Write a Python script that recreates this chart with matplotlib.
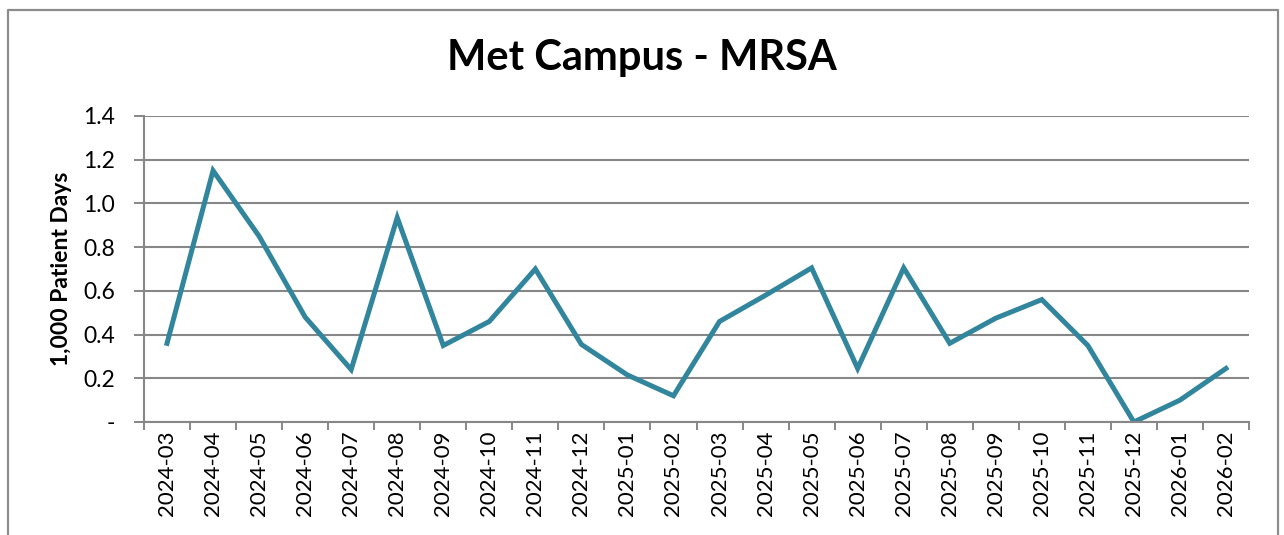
import numpy as np
import matplotlib
matplotlib.use("Agg")
import matplotlib.pyplot as plt
from matplotlib.lines import Line2D

# Monthly MRSA rate per 1,000 patient days
months = ['2024-03', '2024-04', '2024-05', '2024-06', '2024-07', '2024-08',
          '2024-09', '2024-10', '2024-11', '2024-12', '2025-01', '2025-02',
          '2025-03', '2025-04', '2025-05', '2025-06', '2025-07', '2025-08',
          '2025-09', '2025-10', '2025-11', '2025-12', '2026-01', '2026-02']
rates = [0.36, 1.15, 0.85, 0.48, 0.24, 0.935, 0.35, 0.46, 0.70, 0.355,
         0.215, 0.12, 0.46, 0.58, 0.705, 0.245, 0.705, 0.36, 0.475, 0.56,
         0.35, 0.0, 0.10, 0.245]
yticks = [0, 0.2, 0.4, 0.6, 0.8, 1.0, 1.2, 1.4]
ytick_labels = ['-', '0.2', '0.4', '0.6', '0.8', '1.0', '1.2', '1.4']

plt.rcParams['font.family'] = ['Lato', 'DejaVu Sans']
grid_gray = '#878787'

fig = plt.figure(figsize=(12.84, 5.35), dpi=100)
W, H = 1284, 535
ax = fig.add_axes([144 / W, 1 - 422 / H, (1249 - 144) / W, (422 - 116) / H])

x = np.arange(len(months))
ax.plot(x, rates, color='#31859C', linewidth=3.6, solid_joinstyle='miter')

ax.set_xlim(-0.5, len(months) - 0.5)
ax.set_ylim(0, 1.4)
ax.set_yticks(yticks)
ax.set_yticklabels(ytick_labels, fontsize=16.5)
ax.set_xticks(x)
ax.set_xticklabels(months, rotation=90, fontsize=16)
ax.tick_params(axis='x', length=0, pad=6)
ax.set_xticks(np.arange(-0.5, len(months)), minor=True)
ax.tick_params(axis='x', which='minor', length=6, width=1.4, color=grid_gray)
ax.tick_params(axis='y', length=7, width=1.4, color=grid_gray, pad=14)

ax.grid(axis='y', color=grid_gray, linewidth=1.5)
ax.set_axisbelow(True)
for s in ['top', 'right']:
    ax.spines[s].set_visible(False)
for s in ['left', 'bottom']:
    ax.spines[s].set_color(grid_gray)
    ax.spines[s].set_linewidth(1.5)

ax.set_ylabel('1,000 Patient Days', fontsize=16.5, fontweight='bold', labelpad=8)
fig.text(642 / W, 1 - 58 / H, 'Met Campus - MRSA', fontsize=30,
         fontweight='bold', ha='center', va='center')

# outer chart border (open at the bottom, as in the crop)
bx0, bx1, by = 7.5 / W, 1277.5 / W, 1 - 9.5 / H
fig.add_artist(Line2D([bx0, bx0, bx1, bx1], [0, by, by, 0],
                      transform=fig.transFigure, color='#8c8c8c', linewidth=1.6))

fig.savefig('out.png', dpi=100)
